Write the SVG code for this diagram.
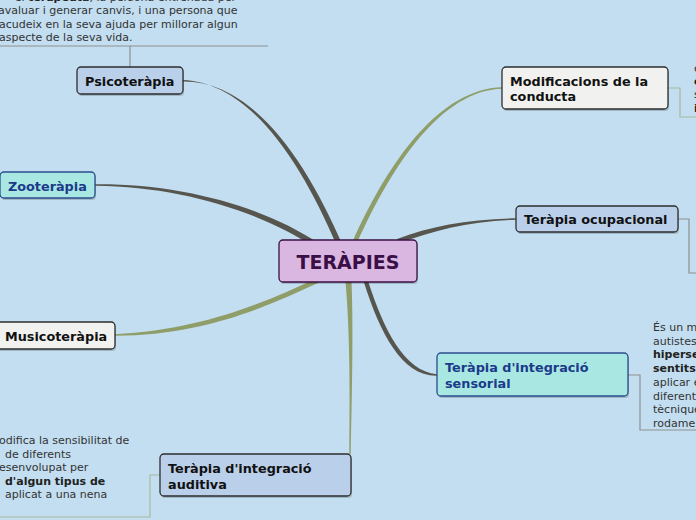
<svg xmlns="http://www.w3.org/2000/svg" width="696" height="520" viewBox="0 0 696 520">
<style>
.bg{fill:#C2DEF0}
.dk{fill:#57564E}
.gr{fill:#8F9D68}
.ln{fill:none;stroke:#8E9090;stroke-width:1.2}
.lg{fill:none;stroke:#A8B89C;stroke-width:1.2}
.sh{fill:#000;opacity:0.18}
.n{stroke-width:1.3}
.blue{fill:#BACFEA;stroke:#2E2E2E}
.white{fill:#F1F1F0;stroke:#2E2E2E}
.cyan{fill:#A9E8E2;stroke:#2C4C8E}
.t{font-family:"DejaVu Sans",Verdana,sans-serif;font-weight:bold;font-size:12.8px;fill:#111}
.tc{fill:#1B3A8A}
.p{font-family:"DejaVu Sans",Verdana,sans-serif;font-size:11px;fill:#333}
.b{font-weight:bold;fill:#222}
</style>
<rect class="bg" x="0" y="0" width="696" height="520"/>
<g id="connectors">
<path class="dk" d="M183,80 C250,83 300,160 337,246 L343,246 C305,158 252,81 183,81.5 Z"/>
<path class="dk" d="M95,184.3 C180,183.5 262,206 318,243 L315,247.5 C259,211 180,186.5 95,185.7 Z"/>
<path class="gr" d="M115,334.3 C200,330 262,304 317,278 L319,282.5 C264,308 202,335.5 115,335.7 Z"/>
<path class="gr" d="M502,87.3 C440,89 389,160 352,243 L357,243 C393,163 442,90.5 502,88.7 Z"/>
<path class="dk" d="M516,218.3 C470,219 430,226 397,239 L399,243.5 C432,230.5 471,221 516,219.7 Z"/>
<path class="dk" d="M437,374.3 C404,371 384,330 368,281 L364,282.5 C380,333 402,376.5 437,375.7 Z"/>
<path class="gr" d="M349.3,454 C350,400 350,330 345.5,282 L351.5,282 C353.5,330 351.8,400 350.7,454 Z"/>
<path class="ln" d="M0,46 H268 M130,46 V67"/>
<path class="lg" d="M668,88 H680 V117 H696"/>
<path class="ln" d="M678,219 H689 V273 H696"/>
<path class="ln" d="M628,375 H640 V430 H696"/>
<path class="lg" d="M160,475 H150 V517 H0"/>
</g>
<g id="note-psico">
<text class="p" x="236" y="1" text-anchor="end">el <tspan class="b">terapeuta</tspan>, la persona entrenada per</text>
<text class="p" x="-2" y="14">avaluar i generar canvis, i una persona que</text>
<text class="p" x="-1" y="27.5">acudeix en la seva ajuda per millorar algun</text>
<text class="p" x="-1" y="41">aspecte de la seva vida.</text>
</g>
<g id="note-modif">
<text class="p" x="694" y="72">e</text>
<text class="p b" x="694" y="85">c</text>
<text class="p" x="694" y="98">s</text>
<text class="p b" x="694" y="112">i</text>
</g>
<g id="note-sensorial">
<text class="p" x="653" y="331">És un m</text>
<text class="p" x="653" y="344.7">autistes</text>
<text class="p b" x="653" y="358.4">hiperse</text>
<text class="p b" x="653" y="372.1">sentits</text>
<text class="p" x="653" y="385.8">aplicar e</text>
<text class="p" x="653" y="399.5">diferent</text>
<text class="p" x="653" y="413.2">tècnique</text>
<text class="p" x="653" y="427">rodame</text>
</g>
<g id="note-auditiva">
<text class="p" x="-1" y="444">odifica la sensibilitat de</text>
<text class="p" x="5" y="458">de diferents</text>
<text class="p" x="-1" y="471">esenvolupat per</text>
<text class="p b" x="5" y="485">d'algun tipus de</text>
<text class="p" x="5" y="498">aplicat a una nena</text>
</g>
<g id="psicoterapia">
<rect class="sh" x="78" y="69" width="106" height="27" rx="4"/>
<rect class="n blue" x="77" y="67" width="106" height="27" rx="4"/>
<text class="t" x="85" y="85.5">Psicoteràpia</text>
</g>
<g id="zooterapia">
<rect class="sh" x="1" y="174" width="95" height="26" rx="4"/>
<rect class="n cyan" x="0" y="172" width="95" height="26" rx="4"/>
<text class="t tc" x="8" y="190.5">Zooteràpia</text>
</g>
<g id="musicoterapia">
<rect class="sh" x="-4" y="324" width="120" height="27" rx="4"/>
<rect class="n white" x="-5" y="322" width="120" height="27" rx="4"/>
<text class="t" x="5" y="340.5">Musicoteràpia</text>
</g>
<g id="modificacions">
<rect class="sh" x="503" y="69" width="166" height="42" rx="4"/>
<rect class="n white" x="502" y="67" width="166" height="42" rx="4"/>
<text class="t" x="510" y="85.5">Modificacions de la</text>
<text class="t" x="510" y="101">conducta</text>
</g>
<g id="ocupacional">
<rect class="sh" x="517" y="208" width="162" height="26" rx="4"/>
<rect class="n blue" x="516" y="206" width="162" height="26" rx="4"/>
<text class="t" x="524" y="224">Teràpia ocupacional</text>
</g>
<g id="sensorial">
<rect class="sh" x="438" y="355" width="191" height="43" rx="4"/>
<rect class="n cyan" x="437" y="353" width="191" height="43" rx="4"/>
<text class="t tc" x="445" y="371.5">Teràpia d'integració</text>
<text class="t tc" x="445" y="387.5">sensorial</text>
</g>
<g id="auditiva">
<rect class="sh" x="161" y="456" width="191" height="42" rx="4"/>
<rect class="n blue" x="160" y="454" width="191" height="42" rx="4"/>
<text class="t" x="168" y="472.5">Teràpia d'integració</text>
<text class="t" x="168" y="488.5">auditiva</text>
</g>
<g id="terapies">
<rect class="sh" x="280" y="242" width="138" height="42" rx="4"/>
<rect x="279" y="240" width="138" height="42" rx="4" fill="#D9B7E1" stroke="#3C1046" stroke-width="1.3"/>
<text x="348" y="269" text-anchor="middle" font-family="DejaVu Sans,Verdana,sans-serif" font-weight="bold" font-size="19" fill="#3A0E46">TERÀPIES</text>
</g>
</svg>
